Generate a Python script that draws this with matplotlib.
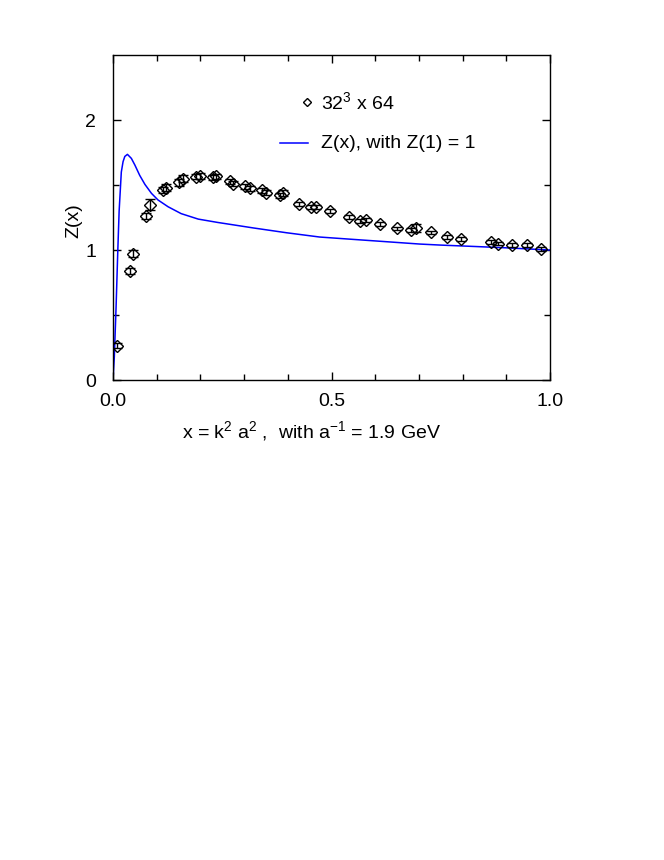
"""Z(x) lattice data on a 32^3 x 64 lattice with the fitted Z(x) curve."""

import matplotlib
matplotlib.use("Agg")
import matplotlib.pyplot as plt

plt.rcParams["font.family"] = ["Liberation Sans", "DejaVu Sans"]
plt.rcParams["mathtext.fontset"] = "custom"
plt.rcParams["mathtext.rm"] = "Liberation Sans"
plt.rcParams["mathtext.it"] = "Liberation Sans"

FS = 14

# lattice points (x, Z, error)
x_data = [0.008, 0.038, 0.046, 0.076, 0.084, 0.115, 0.122, 0.151, 0.160, 0.189,
          0.198, 0.229, 0.236, 0.267, 0.275, 0.303, 0.313, 0.342, 0.351, 0.381,
          0.389, 0.426, 0.454, 0.465, 0.496, 0.540, 0.566, 0.578, 0.612, 0.651,
          0.681, 0.693, 0.728, 0.764, 0.797, 0.864, 0.880, 0.912, 0.948, 0.979]
z_data = [0.264, 0.838, 0.972, 1.26, 1.35, 1.46, 1.48, 1.52, 1.55, 1.565,
          1.57, 1.56, 1.567, 1.53, 1.51, 1.49, 1.475, 1.46, 1.44, 1.42,
          1.44, 1.354, 1.33, 1.33, 1.30, 1.256, 1.226, 1.23, 1.20, 1.166,
          1.155, 1.17, 1.135, 1.10, 1.087, 1.06, 1.05, 1.04, 1.04, 1.005]
z_err = [0.02, 0.025, 0.025, 0.025, 0.04, 0.025, 0.025, 0.03, 0.025, 0.02,
         0.02, 0.02, 0.02, 0.02, 0.02, 0.02, 0.02, 0.02, 0.02, 0.02,
         0.025, 0.015, 0.015, 0.015, 0.015, 0.015, 0.015, 0.015, 0.015, 0.015,
         0.015, 0.03, 0.015, 0.015, 0.015, 0.015, 0.015, 0.015, 0.015, 0.015]

# fitted curve
x_fit = [0.0, 0.003, 0.007, 0.011, 0.014, 0.019, 0.023, 0.027, 0.033, 0.042,
         0.050, 0.061, 0.073, 0.088, 0.103, 0.126, 0.156, 0.195, 0.24, 0.271,
         0.321, 0.397, 0.473, 0.549, 0.626, 0.702, 0.75, 0.83, 0.9, 1.0]
z_fit = [0.0, 0.18, 0.56, 1.0, 1.3, 1.60, 1.68, 1.72, 1.736, 1.705,
         1.654, 1.575, 1.505, 1.436, 1.385, 1.333, 1.28, 1.238, 1.212, 1.196,
         1.17, 1.133, 1.10, 1.082, 1.064, 1.046, 1.038, 1.027, 1.017, 1.0]

fig = plt.figure(figsize=(6.64, 8.6), dpi=100)
ax = fig.add_axes([0.1702, 0.5581, 0.6581, 0.3779])

ax.plot(x_fit, z_fit, color="#0000ff", lw=1.1, zorder=2)
ax.errorbar(x_data, z_data, yerr=z_err, fmt="D", ms=6, mfc="none", mec="black",
            mew=1.0, ecolor="black", elinewidth=1.0, capsize=3.6, capthick=1.0, zorder=3)

ax.set_xlim(0, 1.0)
ax.set_ylim(0, 2.5)
ax.set_xticks([0.0, 0.5, 1.0])
ax.set_xticklabels(["0.0", "0.5", "1.0"])
ax.set_xticks([0.1, 0.2, 0.3, 0.4, 0.6, 0.7, 0.8, 0.9], minor=True)
ax.set_yticks([0, 1, 2])
ax.set_yticks([0.5, 1.5], minor=True)
ax.tick_params(which="both", direction="in", top=True, right=True, labelsize=FS)
ax.tick_params(which="major", length=6, width=1, pad=9)
ax.tick_params(which="minor", length=4, width=1)
ax.tick_params(axis="y", pad=12)
for s in ax.spines.values():
    s.set_linewidth(1.0)

ax.set_ylabel("Z(x)", fontsize=FS)
ax.yaxis.set_label_coords(-0.071, 0.49)
ax.set_xlabel(r"x = k$^{2}$ a$^{2}$ ,  with a$^{-1}$ = 1.9 GeV", fontsize=FS)
ax.xaxis.set_label_coords(0.455, -0.12)

# legend drawn by hand to match the original layout
ax.plot([0.444], [0.855], "D", ms=4.5, mfc="none", mec="black", mew=1.0,
        transform=ax.transAxes, clip_on=False)
ax.text(0.475, 0.855, r"32$^{3}$ x 64", transform=ax.transAxes, fontsize=FS,
        va="center", ha="left")
ax.plot([0.382, 0.446], [0.729, 0.729], color="#0000ff", lw=1.1,
        transform=ax.transAxes)
ax.text(0.475, 0.729, "Z(x), with Z(1) = 1", transform=ax.transAxes,
        fontsize=FS, va="center", ha="left")

fig.savefig("out.png", dpi=100)
